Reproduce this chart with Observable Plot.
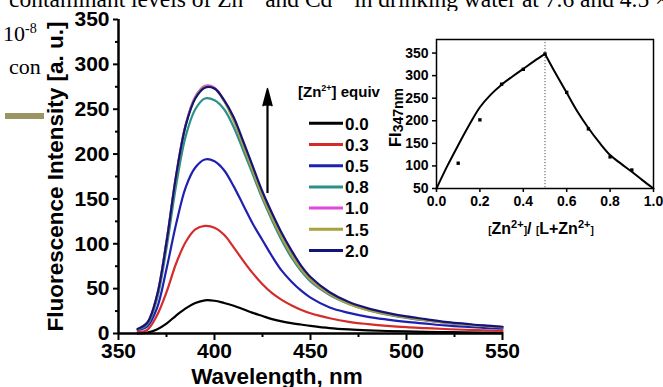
<!DOCTYPE html>
<html><head><meta charset="utf-8">
<script src="https://cdn.jsdelivr.net/npm/d3@7"></script>
<script src="https://cdn.jsdelivr.net/npm/@observablehq/plot@0.6"></script>
<style>
html,body{margin:0;padding:0;background:#fff;width:663px;height:387px;overflow:hidden;position:relative;}
#slide{position:absolute;left:0;top:0;z-index:0}
#main{position:absolute;left:44px;top:11px;z-index:1}
#inset{position:absolute;left:380px;top:29px;z-index:2}
#overlay{position:absolute;left:0;top:0;z-index:3;pointer-events:none}
</style></head><body>
<div id="slide"></div>
<div id="main"></div>
<div id="inset"></div>
<div id="overlay"></div>
<script>
// ---- main spectra data ----
const wavelengths = [360,365,370,375,380,385,390,395,400,405,410,415,420,425,430,435,440,445,450,460,470,480,490,500,510,520,530,540,550];
const equiv = ["0.0","0.3","0.5","0.8","1.0","1.5","2.0"];
const colors = ["#000000","#d42b2b","#2020b0","#2b9088","#e048e0","#a8a23c","#141478"];
const s00 = [0,1,4.5,11,20,28,34,37, 36.5,34,31,27,23,19.5,16,13.5,11.5,10,8.5, 6,4.5,3.5,2.8,2.3,1.9,1.6,1.3,1.1,1.0];
const s03 = [1.5,4,20,46,78,102,116,120, 118,110,96,81,67,55,45,37.5,31.5,26.5,22.5, 17,13,10.5,8.5,7,6,5,4.2,3.6,3.0];
const s05 = [4,8,28,72,122,163,185,194, 192,182,164,143,122,104,86,70,58,48,40, 29,23,18.5,15.5,13,11,9,7.5,6.3,5.3];
const s08 = [4.5,10,38,95,165,220,250,262, 260,250,230,204,177,150,126,104,85,70,58, 43,33,26,21,17.5,14.5,12,10,8.4,7];
const s10 = [5,12,42,103,176,233,264,276, 274,260,238,210,182,154,130,108,89,73,60, 44,33.5,26.5,21.5,18,15,12.5,10.5,8.6,7.2];
const s15 = [5,12,41,102,175,232,263,275, 273,259,237,209,181,153,129,107,88,72,60, 44,33,26,21.5,17.8,14.8,12.2,10.2,8.5,7.1];
const s20 = [5,12,42,102,176,232,262,274, 273,260,241,214,186,158,134,112,93,76,63, 46,35,28,23,19,16,13,11,9,7.5];
const series = [s00,s03,s05,s08,s10,s15,s20];
const xTicks = [350,400,450,500,550];
const xMinor = [375,425,475,525];
const yTicks = [0,50,100,150,200,250,300,350];
const yMinor = [25,75,125,175,225,275,325];
const arrowData = [{nm: 427.6, base: 156, neck: 254}];

// ---- inset (Job's plot) data ----
const jobX = [0.1,0.2,0.3,0.4,0.5,0.6,0.7,0.8,0.9];
const jobY = [106,202,281,314,348,263,182,120,91];
const fitLeftX = [0,0.05,0.1,0.15,0.2,0.25,0.3,0.35,0.4,0.45,0.5];
const fitLeftY = [50,100,146,190,230,258,280,298,315,332,348];
const fitRightX = [0.5,0.55,0.6,0.65,0.7,0.75,0.8,0.85,0.9,0.95,1.0];
const fitRightY = [348,304,262,220,184,152,124,105,87,68,50];
const insetXTicks = [0,0.2,0.4,0.6,0.8,1.0];
const insetYTicks = [50,100,150,200,250,300,350];

const font = "'Liberation Sans', Arial, sans-serif";

const rows = equiv.flatMap((e,i) => wavelengths.map((w,j) => ({equiv: e, nm: w, fi: series[i][j]})));

const main = Plot.plot({
  width: 619, height: 376,
  marginLeft: 74, marginRight: 161, marginTop: 8, marginBottom: 54,
  x: {domain: [350, 550]},
  y: {domain: [0, 350]},
  color: {domain: equiv, range: colors},
  style: {fontFamily: font, fontWeight: "bold", background: "white", overflow: "visible", color: "black"},
  marks: [
    Plot.line(rows, {x: "nm", y: "fi", z: "equiv", stroke: "equiv", curve: "catmull-rom", strokeWidth: 2.2}),
    Plot.ruleX(arrowData, {x: "nm", y1: "base", y2: "neck", stroke: "black", strokeWidth: 2.2}),
    Plot.vector(arrowData, {x: "nm", y: "neck", length: 17, r: 4.5, shape: "spike", anchor: "start", fill: "black", stroke: "black"}),
    Plot.axisX(xTicks, {tickSize: 7, tickPadding: 3, fontSize: 21, label: null, strokeWidth: 2}),
    Plot.axisX(xMinor, {tickSize: 4, tickFormat: () => "", label: null, strokeWidth: 2}),
    Plot.axisY(yTicks, {tickSize: 5, tickPadding: 4, fontSize: 21, label: null, strokeWidth: 2}),
    Plot.axisY(yMinor, {tickSize: 3, tickFormat: () => "", label: null, strokeWidth: 2}),
    Plot.ruleY([0], {strokeWidth: 2.5}),
    Plot.ruleX([350], {strokeWidth: 2.5}),
    Plot.text(["Wavelength, nm"], {text: d => d, frameAnchor: "bottom", lineAnchor: "top", dy: 35, dx: -33.5, fontSize: 22.5, fontWeight: "bold"}),
    Plot.text(["Fluorescence Intensity [a. u.]"], {text: d => d, frameAnchor: "left", textAnchor: "middle", lineAnchor: "middle", rotate: -90, dx: -63, fontSize: 22.5, fontWeight: "bold"})
  ]
});
document.getElementById("main").appendChild(main);

const fit = fitLeftX.map((x,i) => ({x, y: fitLeftY[i], side: "L"}))
  .concat(fitRightX.map((x,i) => ({x, y: fitRightY[i], side: "R"})));
const job = jobX.map((x,i) => ({x, y: jobY[i]}));

const inset = Plot.plot({
  width: 283, height: 216,
  marginLeft: 56, marginRight: 10, marginTop: 10, marginBottom: 57,
  x: {domain: [0, 1]},
  y: {domain: [50, 380]},
  style: {fontFamily: font, fontWeight: "bold", background: "transparent", overflow: "visible", color: "black"},
  marks: [
    Plot.ruleX([0.5], {stroke: "#555", strokeWidth: 1, strokeDasharray: "1.2,1.8"}),
    Plot.line(fit, {x: "x", y: "y", z: "side", curve: "catmull-rom", strokeWidth: 2, stroke: "black"}),
    Plot.dot(job, {x: "x", y: "y", symbol: "square", r: 1.9, fill: "black"}),
    Plot.frame({strokeWidth: 1.5}),
    Plot.axisX(insetXTicks, {tickSize: 4, tickPadding: 4, fontSize: 14, tickFormat: d3.format(".1f"), label: null, strokeWidth: 1.5}),
    Plot.axisY(insetYTicks, {tickSize: 4, tickPadding: 4, fontSize: 14, label: null, strokeWidth: 1.5})
  ]
});
document.getElementById("inset").appendChild(inset);

// ---- slide text behind the chart ----
const slide = d3.select("#slide").append("svg").attr("width", 663).attr("height", 387)
  .style("font-family", "'Liberation Serif', 'Times New Roman', serif").style("font-size", "23.5px");
const l1 = slide.append("text").attr("x", 9).attr("y", 7);
l1.append("tspan").text("contaminant levels of Zn");
l1.append("tspan").attr("dy", -8).attr("font-size", 15).text("2+");
l1.append("tspan").attr("dy", 8).text(" and Cd");
l1.append("tspan").attr("dy", -8).attr("font-size", 15).text("2+");
l1.append("tspan").attr("dy", 8).text(" in drinking water at 7.6 and 4.5 \u00d7");
const l2 = slide.append("text").attr("x", 3).attr("y", 41).attr("font-size", 22);
l2.append("tspan").text("10");
l2.append("tspan").attr("dy", -8).attr("font-size", 14).text("-8");
slide.append("text").attr("x", 9).attr("y", 74).attr("font-size", 22).text("con");
slide.append("rect").attr("x", 5).attr("y", 113).attr("width", 39).attr("height", 6).attr("fill", "#9c9462");

// ---- overlay: legend, inset axis labels ----
const ov = d3.select("#overlay").append("svg").attr("width", 663).attr("height", 387)
  .style("font-family", font).style("font-weight", "bold");
const lt = ov.append("text").attr("x", 298).attr("y", 97).attr("font-size", 15);
lt.append("tspan").text("[Zn");
lt.append("tspan").attr("dy", -6).attr("font-size", 9).text("2+");
lt.append("tspan").attr("dy", 6).text("] equiv");
equiv.forEach((e, i) => {
  const y = 123.3 + i * 21.2;
  ov.append("line").attr("x1", 309).attr("x2", 343).attr("y1", y).attr("y2", y)
    .attr("stroke", colors[i]).attr("stroke-width", 3);
  ov.append("text").attr("x", 345).attr("y", y + 6.2).attr("font-size", 17).text(e);
});
const xl = ov.append("text").attr("x", 541).attr("y", 234).attr("text-anchor", "middle").attr("font-size", 16);
xl.append("tspan").attr("font-size", 10).text("[");
xl.append("tspan").text("Zn");
xl.append("tspan").attr("dy", -6).attr("font-size", 11).text("2+");
xl.append("tspan").attr("dy", 6).attr("font-size", 10).text("]");
xl.append("tspan").text("/ ");
xl.append("tspan").attr("font-size", 10).text("[");
xl.append("tspan").text("L+Zn");
xl.append("tspan").attr("dy", -6).attr("font-size", 11).text("2+");
xl.append("tspan").attr("dy", 6).attr("font-size", 10).text("]");
const yl = ov.append("text").attr("transform", "translate(401,117.5) rotate(-90)").attr("text-anchor", "middle").attr("font-size", 16.5);
yl.append("tspan").text("FI");
yl.append("tspan").attr("dy", 2).attr("font-size", 14).text("347nm");
</script>
</body></html>
